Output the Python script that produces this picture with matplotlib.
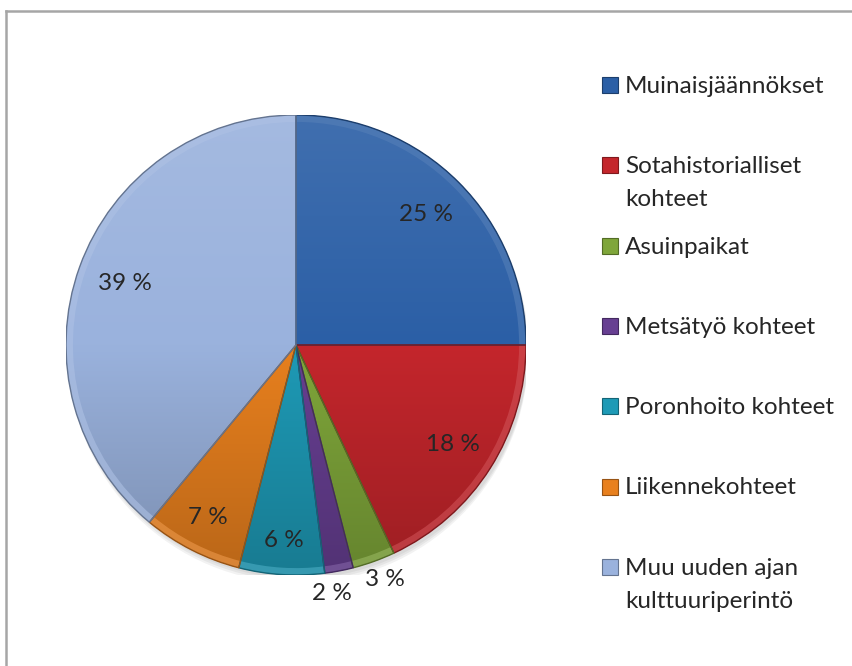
import numpy as np
import matplotlib.pyplot as plt
from matplotlib.colors import LinearSegmentedColormap, to_rgb
from matplotlib.patches import Rectangle, Wedge, Circle
from matplotlib.lines import Line2D

categories = ["Muinaisjäännökset", "Sotahistorialliset\nkohteet", "Asuinpaikat",
              "Metsätyö kohteet", "Poronhoito kohteet", "Liikennekohteet",
              "Muu uuden ajan\nkulttuuriperintö"]
shares = [25, 18, 3, 2, 6, 7, 39]
colors = ["#2B5FA6", "#C4262C", "#7FA63A", "#673F92", "#1E9AB6", "#E8801E", "#9AB2DD"]

# distance of each percent label from centre (pie radius = 1) and angle nudge
label_dist = [0.80, 0.81, 1.09, 1.09, 0.85, 0.84, 0.79]
label_turn = [0, 0, 1.0, -2.5, 0, 0, 0]

W, H = 853, 666
fig = plt.figure(figsize=(W / 100, H / 100), dpi=100)
plt.rcParams['font.family'] = ['Lato', 'DejaVu Sans']
txt_color = "#262626"
fs = 17.5


def mix(c, other, t):
    c = np.array(to_rgb(c))
    return tuple(c * (1 - t) + np.array(other) * t)


# pie axes: centre (296, 345) px, radius 230 px
cx, cy, r = 296, 345, 230
ax = fig.add_axes([(cx - r) / W, (H - cy - r) / H, 2 * r / W, 2 * r / H])

# soft shadow under the pie
for k in range(3):
    ax.add_patch(Circle((0.01, -0.015 - 0.01 * k), 1.0, color="black", alpha=0.05, lw=0, zorder=0))

wedges, _ = ax.pie(shares, colors=colors, startangle=90, counterclock=False,
                   radius=1, wedgeprops=dict(linewidth=0))
ax.set_xlim(-1, 1)
ax.set_ylim(-1, 1)
ax.set_aspect("equal")

grad = np.linspace(1, 0, 256).reshape(-1, 1)
for w, c in zip(wedges, colors):
    cmap = LinearSegmentedColormap.from_list("g", [mix(c, (0, 0, 0), 0.2), c, mix(c, (1, 1, 1), 0.1)])
    im = ax.imshow(grad, extent=[-1, 1, -1, 1], cmap=cmap, origin="upper",
                   aspect="auto", zorder=2)
    im.set_clip_path(w)
    # bevel-ish rim and dark edge
    ax.add_patch(Wedge(w.center, w.r, w.theta1, w.theta2, width=0.03,
                       color=mix(c, (1, 1, 1), 0.2), lw=0, alpha=0.6, zorder=3))
    ax.add_patch(Wedge(w.center, w.r, w.theta1, w.theta2, fill=False,
                       ec=mix(c, (0, 0, 0), 0.35), lw=1.0, zorder=4))

for w, v, d, t in zip(wedges, shares, label_dist, label_turn):
    ang = np.deg2rad((w.theta1 + w.theta2) / 2 + t)
    ax.text(d * np.cos(ang), d * np.sin(ang), f"{v} %", ha="center", va="center",
            fontsize=fs, color=txt_color, zorder=5)

# legend, drawn in pixel positions of the figure
base0, step, line_gap = 93, 80.3, 33
for i, (lab, c) in enumerate(zip(categories, colors)):
    base = base0 + i * step
    fig.patches.append(Rectangle((602 / W, (H - base) / H), 16 / W, 16 / H,
                                 transform=fig.transFigure, fc=c,
                                 ec=mix(c, (0, 0, 0), 0.35), lw=0.8))
    for j, line in enumerate(lab.split("\n")):
        fig.text(625 / W, (H - base - j * line_gap) / H, line, ha="left",
                 va="baseline", fontsize=fs, color=txt_color)

# chart frame (top and left edges visible)
fig.add_artist(Line2D([6 / W, 1.01], [(H - 11) / H] * 2, transform=fig.transFigure,
                      color="#A6A6A6", lw=1.8))
fig.add_artist(Line2D([6 / W] * 2, [-0.01, (H - 11) / H], transform=fig.transFigure,
                      color="#A6A6A6", lw=1.8))

fig.savefig("out.png", dpi=100, facecolor="white")
